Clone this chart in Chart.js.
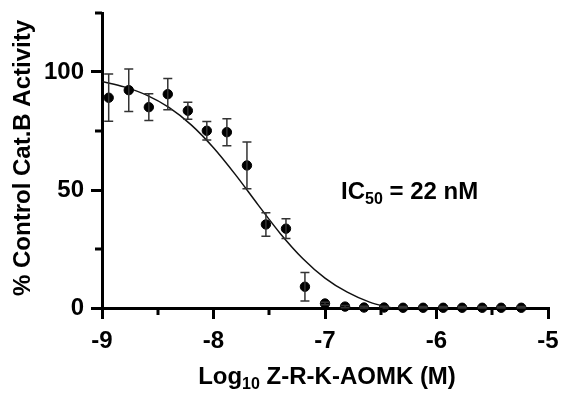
<!DOCTYPE html>
<html>
<head>
<meta charset="utf-8">
<script src="https://cdn.jsdelivr.net/npm/chart.js@4"></script>
<style>
  html, body { margin: 0; padding: 0; background: #fff; }
  #wrap { width: 561px; height: 394px; }
</style>
</head>
<body>
<div id="wrap"><canvas id="ic50Chart" width="561" height="394"></canvas></div>
<script>
  // log10 concentration (M), 1.5-fold dilution series
  const logConc = [-8.94, -8.76, -8.58, -8.41, -8.23, -8.06, -7.88, -7.70, -7.53, -7.35, -7.18,
                   -7.00, -6.82, -6.65, -6.47, -6.30, -6.12, -5.94, -5.77, -5.59, -5.42, -5.24];
  // % control Cat.B activity (mean) and error
  const activity = [89.1, 92.3, 85.1, 90.6, 83.6, 75.1, 74.5, 60.4, 35.4, 33.6, 9.0,
                    1.9, 0.6, 0.2, 0.2, 0.1, 0.1, 0.1, 0.1, 0.1, 0.1, 0.1];
  const errBar = [10, 9, 5.7, 6.6, 3.6, 3.9, 5.7, 9.9, 5.0, 4.2, 6.0,
                  0.5, 0.5, 0.5, 0.5, 0.5, 0.5, 0.5, 0.5, 0.5, 0.5, 0.5];

  // fitted curve
  const fitX = [-9.0, -8.8, -8.6, -8.4, -8.2, -8.0, -7.8, -7.6, -7.4, -7.2, -7.0, -6.8, -6.6, -6.4];
  const fitY = [96.0, 93.7, 90.2, 85.0, 77.6, 67.9, 56.3, 43.7, 31.5, 21.0, 12.7, 6.7, 2.5, 0];

  const xMinor = [-8.5, -7.5, -6.5, -5.5];
  const yMinor = [25, 75, 125];

  const FONT = "'Liberation Sans', Arial, Helvetica, sans-serif";

  // draws text made of pieces, some of them subscripts
  function drawPieces(ctx, pieces, x, y, align) {
    let total = 0;
    pieces.forEach(p => {
      ctx.font = 'bold ' + p.size + 'px ' + FONT;
      p.w = ctx.measureText(p.t).width;
      total += p.w;
    });
    let cx = align === 'center' ? x - total / 2 : x;
    pieces.forEach(p => {
      ctx.font = 'bold ' + p.size + 'px ' + FONT;
      ctx.fillText(p.t, cx, y + (p.dy || 0));
      cx += p.w;
    });
  }

  const extras = {
    id: 'extras',
    afterDatasetsDraw(chart) {
      const ctx = chart.ctx;
      const xs = chart.scales.x, ys = chart.scales.y;
      ctx.save();
      ctx.strokeStyle = '#333';
      ctx.lineWidth = 1.5;
      logConc.forEach((lx, i) => {
        const px = xs.getPixelForValue(lx);
        const top = ys.getPixelForValue(activity[i] + errBar[i]);
        const bot = ys.getPixelForValue(Math.max(0, activity[i] - errBar[i]));
        ctx.beginPath();
        ctx.moveTo(px, top); ctx.lineTo(px, bot);
        ctx.moveTo(px - 4.5, top); ctx.lineTo(px + 4.5, top);
        ctx.moveTo(px - 4.5, bot); ctx.lineTo(px + 4.5, bot);
        ctx.stroke();
      });
      ctx.restore();
    },
    afterDraw(chart) {
      const ctx = chart.ctx;
      const xs = chart.scales.x, ys = chart.scales.y;
      const area = chart.chartArea;
      ctx.save();
      // minor ticks
      ctx.strokeStyle = '#000';
      ctx.lineWidth = 3;
      xMinor.forEach(v => {
        const px = Math.round(xs.getPixelForValue(v));
        ctx.beginPath(); ctx.moveTo(px, area.bottom); ctx.lineTo(px, area.bottom + 7); ctx.stroke();
      });
      yMinor.forEach(v => {
        const py = Math.round(ys.getPixelForValue(v));
        ctx.beginPath(); ctx.moveTo(area.left, py); ctx.lineTo(area.left - 7, py); ctx.stroke();
      });

      ctx.fillStyle = '#000';
      ctx.textBaseline = 'alphabetic';
      ctx.textAlign = 'left';
      // x title
      drawPieces(ctx, [
        { t: 'Log', size: 24 },
        { t: '10', size: 16, dy: 5 },
        { t: ' Z-R-K-AOMK (M)', size: 24 }
      ], 327, 384, 'center');
      // IC50 label
      drawPieces(ctx, [
        { t: 'IC', size: 24 },
        { t: '50', size: 16, dy: 5 },
        { t: ' = 22 nM', size: 24 }
      ], 341, 199, 'left');
      // y title
      ctx.translate(30, 158);
      ctx.rotate(-Math.PI / 2);
      drawPieces(ctx, [{ t: '% Control Cat.B Activity', size: 24 }], 0, 0, 'center');
      ctx.restore();
    }
  };

  const tickFont = { family: FONT, size: 24, weight: 'bold' };

  new Chart(document.getElementById('ic50Chart'), {
    type: 'scatter',
    data: {
      datasets: [
        {
          label: 'data',
          data: logConc.map((x, i) => ({ x, y: activity[i] })),
          backgroundColor: '#000',
          borderColor: '#000',
          pointRadius: 4.7,
          pointHoverRadius: 4.7,
          clip: false,
          order: 0
        },
        {
          label: 'fit',
          type: 'line',
          data: fitX.map((x, i) => ({ x, y: fitY[i] })),
          borderColor: '#111',
          borderWidth: 1.5,
          pointRadius: 0,
          fill: false,
          cubicInterpolationMode: 'monotone',
          order: 1
        }
      ]
    },
    options: {
      responsive: false,
      animation: false,
      layout: { padding: { top: 13, right: 13, bottom: 0, left: 0 } },
      plugins: {
        legend: { display: false },
        tooltip: { enabled: false }
      },
      scales: {
        x: {
          type: 'linear',
          min: -9, max: -5,
          afterFit: s => { s.height = 86; s.paddingLeft = 0; s.paddingRight = 0; },
          border: { display: true, color: '#000', width: 3 },
          grid: {
            drawOnChartArea: false, drawTicks: true, tickLength: 11, lineWidth: 3,
            color: c => (c.tick && Number.isInteger(c.tick.value)) ? '#000' : 'rgba(0,0,0,0)'
          },
          ticks: {
            stepSize: 0.5, color: '#000', font: tickFont, padding: 8, maxRotation: 0,
            autoSkip: false,
            callback: v => Number.isInteger(v) ? String(v) : ''
          }
        },
        y: {
          type: 'linear',
          min: 0, max: 125,
          afterFit: s => { s.width = 102; s.paddingTop = 0; s.paddingBottom = 0; },
          border: { display: true, color: '#000', width: 3 },
          grid: {
            drawOnChartArea: false, drawTicks: true, tickLength: 11, lineWidth: 3,
            color: c => (c.tick && c.tick.value % 50 === 0) ? '#000' : 'rgba(0,0,0,0)'
          },
          ticks: {
            stepSize: 25, color: '#000', font: tickFont, padding: 7,
            callback: v => (v % 50 === 0 && v <= 100) ? String(v) : ''
          }
        }
      }
    },
    plugins: [extras]
  });
</script>
</body>
</html>
